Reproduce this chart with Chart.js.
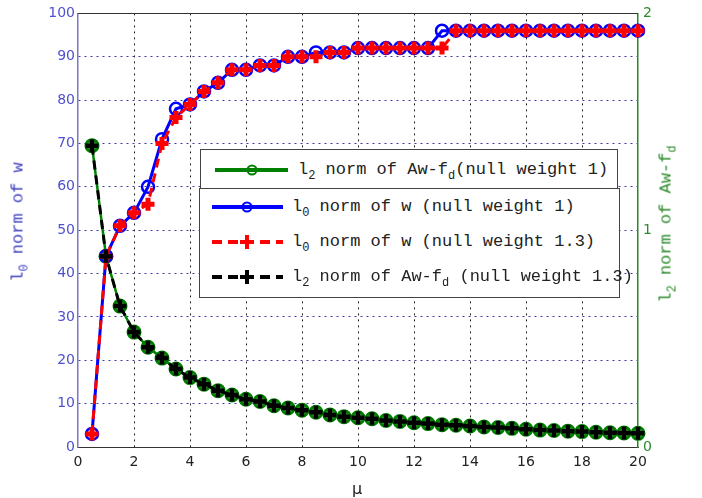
<!DOCTYPE html>
<html>
<head>
<meta charset="utf-8">
<script src="https://cdn.jsdelivr.net/npm/chart.js@4.4.0/dist/chart.umd.min.js"></script>
<style>
    html, body { margin: 0; padding: 0; background: #fff; }
    #wrap { position: relative; width: 702px; height: 498px; overflow: hidden; }
    #chart { position: absolute; left: 0; top: 0; }
    .ytitle {
        position: absolute; white-space: nowrap;
        font-family: "Liberation Mono", monospace; font-size: 17px;
        transform: translate(-50%, -50%) rotate(-90deg);
    }
    .xtitle { position: absolute; font-family: "DejaVu Sans", sans-serif; font-size: 16px; color: #222; transform: translate(-50%, -50%); }
    .legbox { position: absolute; background: #fff; border: 1px solid #444; box-sizing: border-box; }
    .row {
        position: absolute; height: 20px; line-height: 20px; white-space: nowrap;
        font-family: "Liberation Mono", monospace; font-size: 17px; color: #222;
    }
    .row svg { position: absolute; top: 0; }
    .row span { position: absolute; top: 0; }
    sub { font-size: 12px; vertical-align: -5px; line-height: 0; }
</style>
</head>
<body>
<div id="wrap">
    <canvas id="chart" width="702" height="498"></canvas>

    <div class="ytitle" style="left:18px; top:222px; color:#4040c0;">l<sub>0</sub> norm of w</div>
    <div class="ytitle" style="left:666px; top:224px; color:#2a8a2a;">l<sub>2</sub> norm of Aw-f<sub>d</sub></div>
    <div class="xtitle" style="left:357px; top:488px;">μ</div>

    <div class="legbox" style="left:200px; top:149px; width:418px; height:40px;">
        <div class="row" style="left:0; top:10px;">
            <svg style="left:14px" width="76" height="20">
                <line x1="0" y1="10" x2="73" y2="10" stroke="#008000" stroke-width="4"/>
                <circle cx="37" cy="10" r="4.5" fill="none" stroke="#008000" stroke-width="2"/>
            </svg>
            <span style="left:97px">l<sub>2</sub> norm of Aw-f<sub>d</sub>(null weight 1)</span>
        </div>
    </div>
    <div class="legbox" style="left:199px; top:188px; width:421px; height:110px; overflow:visible;">
        <div class="row" style="left:0; top:8px;">
            <svg style="left:12px" width="76" height="20">
                <line x1="0" y1="10" x2="71" y2="10" stroke="#0000ff" stroke-width="4"/>
                <circle cx="35" cy="10" r="4.5" fill="none" stroke="#0000ff" stroke-width="2"/>
            </svg>
            <span style="left:92px">l<sub>0</sub> norm of w (null weight 1)</span>
        </div>
        <div class="row" style="left:0; top:43px;">
            <svg style="left:12px" width="76" height="20">
                <line x1="0" y1="10" x2="71" y2="10" stroke="#ff0000" stroke-width="4" stroke-dasharray="10 6"/>
                <line x1="28" y1="10" x2="42" y2="10" stroke="#ff0000" stroke-width="4"/>
                <line x1="35" y1="3" x2="35" y2="17" stroke="#ff0000" stroke-width="4"/>
            </svg>
            <span style="left:92px">l<sub>0</sub> norm of w (null weight 1.3)</span>
        </div>
        <div class="row" style="left:0; top:78px;">
            <svg style="left:12px" width="76" height="20">
                <line x1="0" y1="10" x2="71" y2="10" stroke="#000" stroke-width="4" stroke-dasharray="10 6"/>
                <line x1="28" y1="10" x2="42" y2="10" stroke="#000" stroke-width="4"/>
                <line x1="35" y1="3" x2="35" y2="17" stroke="#000" stroke-width="4"/>
            </svg>
            <span style="left:92px">l<sub>2</sub> norm of Aw-f<sub>d</sub> (null weight 1.3)</span>
        </div>
    </div>
</div>

<script>
// mu values (x axis)
const mu = [0.5, 1, 1.5, 2, 2.5, 3, 3.5, 4, 4.5, 5,
            5.5, 6, 6.5, 7, 7.5, 8, 8.5, 9, 9.5, 10,
            10.5, 11, 11.5, 12, 12.5, 13, 13.5, 14, 14.5, 15,
            15.5, 16, 16.5, 17, 17.5, 18, 18.5, 19, 19.5, 20];

// l0 norm of w (left axis)
const l0Weight1 = [3, 44, 51, 54, 60, 71, 78, 79, 82, 84,
                   87, 87, 88, 88, 90, 90, 91, 91, 91, 92,
                   92, 92, 92, 92, 92, 96, 96, 96, 96, 96,
                   96, 96, 96, 96, 96, 96, 96, 96, 96, 96];
const l0Weight13 = [3, 44, 51, 54, 56, 70, 76, 79, 82, 84,
                    87, 87, 88, 88, 90, 90, 90, 91, 91, 92,
                    92, 92, 92, 92, 92, 92, 96, 96, 96, 96,
                    96, 96, 96, 96, 96, 96, 96, 96, 96, 96];

// l2 norm of Aw-fd (right axis)
const l2Weight1 = [1.39, 0.88, 0.65, 0.53, 0.46, 0.41, 0.36, 0.32, 0.29, 0.26,
                   0.24, 0.22, 0.21, 0.19, 0.18, 0.17, 0.16, 0.148, 0.14, 0.135,
                   0.13, 0.122, 0.118, 0.112, 0.108, 0.103, 0.1, 0.097, 0.092, 0.09,
                   0.086, 0.082, 0.078, 0.076, 0.073, 0.071, 0.068, 0.066, 0.065, 0.063];
const l2Weight13 = [1.39, 0.88, 0.65, 0.53, 0.46, 0.41, 0.36, 0.32, 0.29, 0.26,
                    0.24, 0.22, 0.21, 0.19, 0.18, 0.17, 0.16, 0.148, 0.14, 0.135,
                    0.13, 0.122, 0.118, 0.112, 0.108, 0.103, 0.1, 0.097, 0.092, 0.09,
                    0.086, 0.082, 0.078, 0.076, 0.073, 0.071, 0.068, 0.066, 0.065, 0.063];

const xTicks = [0, 2, 4, 6, 8, 10, 12, 14, 16, 18, 20];

const toPoints = ys => ys.map((y, i) => ({ x: mu[i], y }));

// top edge of the axes box
const frameTop = {
    id: 'frameTop',
    afterDraw(chart) {
        const { ctx, chartArea: a } = chart;
        ctx.save();
        ctx.strokeStyle = '#333';
        ctx.lineWidth = 1;
        ctx.beginPath();
        ctx.moveTo(a.left, Math.round(a.top) + 0.5);
        ctx.lineTo(a.right, Math.round(a.top) + 0.5);
        ctx.stroke();
        ctx.restore();
    }
};

const tickFont = { family: 'DejaVu Sans', size: 14 };

new Chart(document.getElementById('chart'), {
    type: 'line',
    data: {
        datasets: [
            {
                label: 'l2 norm of Aw-fd(null weight 1)',
                data: toPoints(l2Weight1),
                yAxisID: 'y2',
                borderColor: '#008000',
                borderWidth: 2.5,
                pointStyle: 'circle',
                pointRadius: 6,
                pointBorderWidth: 3,
                pointBorderColor: '#008000',
                pointBackgroundColor: 'rgba(0,128,0,0.7)',
                order: 4,
                clip: false
            },
            {
                label: 'l0 norm of w (null weight 1)',
                data: toPoints(l0Weight1),
                yAxisID: 'y',
                borderColor: '#0000ff',
                borderWidth: 3,
                pointStyle: 'circle',
                pointRadius: 6,
                pointBorderWidth: 2.5,
                pointBorderColor: '#0000ff',
                pointBackgroundColor: 'rgba(0,0,0,0)',
                order: 3,
                clip: false
            },
            {
                label: 'l0 norm of w (null weight 1.3)',
                data: toPoints(l0Weight13),
                yAxisID: 'y',
                borderColor: '#ff0000',
                borderWidth: 3,
                borderDash: [9, 6],
                pointStyle: 'cross',
                pointRadius: 6.5,
                pointBorderWidth: 5,
                pointBorderColor: '#ff0000',
                order: 2,
                clip: false
            },
            {
                label: 'l2 norm of Aw-fd (null weight 1.3)',
                data: toPoints(l2Weight13),
                yAxisID: 'y2',
                borderColor: '#000',
                borderWidth: 3,
                borderDash: [9, 6],
                pointStyle: 'cross',
                pointRadius: 6.5,
                pointBorderWidth: 4.5,
                pointBorderColor: '#000',
                order: 1,
                clip: false
            }
        ]
    },
    options: {
        responsive: false,
        animation: false,
        layout: { padding: { top: 6, left: 0, right: 0, bottom: 0 } },
        plugins: { legend: { display: false }, tooltip: { enabled: false } },
        scales: {
            x: {
                type: 'linear',
                min: 0, max: 20,
                afterBuildTicks: s => { s.ticks = xTicks.map(v => ({ value: v })); },
                afterFit: s => { s.height = 51; },
                ticks: { color: '#222', font: tickFont, padding: 7, maxRotation: 0 },
                grid: {
                    color: c => (c.tick && (c.tick.value === 0 || c.tick.value === 20)) ? 'rgba(0,0,0,0)' : '#222',
                    lineWidth: 1,
                    tickLength: 0
                },
                border: { color: '#333', width: 1, dash: [2, 4] }
            },
            y: {
                position: 'left',
                min: 0, max: 100,
                afterFit: s => { s.width = 78; },
                ticks: { stepSize: 10, color: '#5050d0', font: tickFont, padding: 3 },
                grid: {
                    color: c => (c.tick && (c.tick.value === 0 || c.tick.value === 100)) ? 'rgba(0,0,0,0)' : '#3a3aa8',
                    lineWidth: 1,
                    tickLength: 0
                },
                border: { color: '#7878c8', width: 1.5, dash: [2, 4] }
            },
            y2: {
                position: 'right',
                min: 0, max: 2,
                afterFit: s => { s.width = 64; },
                ticks: { stepSize: 1, color: '#2e8b2e', font: tickFont, padding: 5 },
                grid: { drawOnChartArea: false, tickLength: 0 },
                border: { color: '#228b22', width: 1.5 }
            }
        }
    },
    plugins: [frameTop]
});
</script>
</body>
</html>
